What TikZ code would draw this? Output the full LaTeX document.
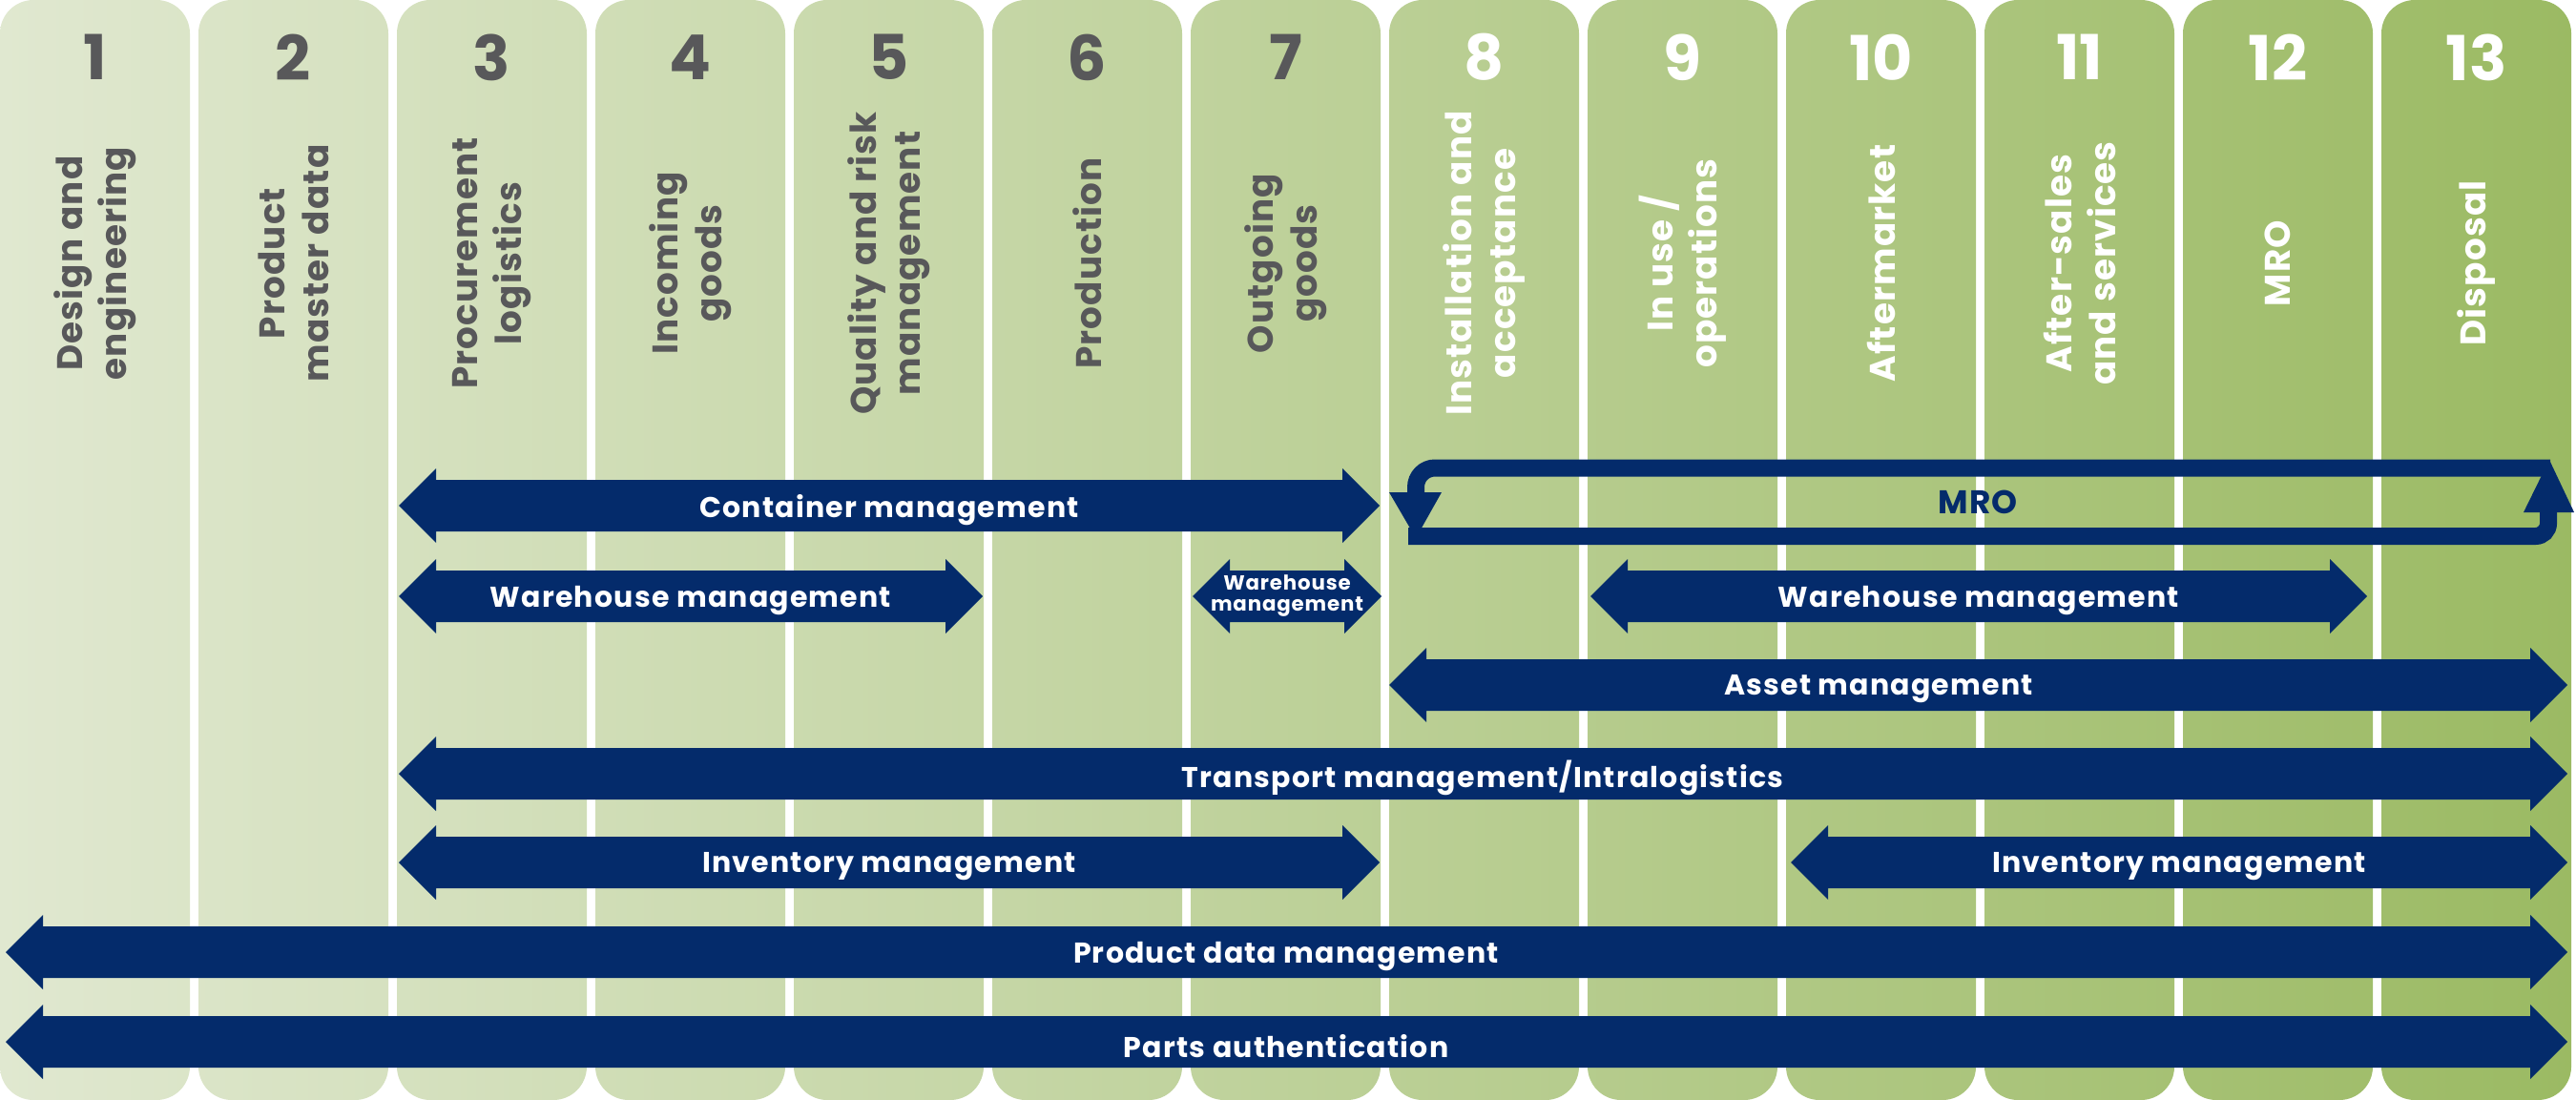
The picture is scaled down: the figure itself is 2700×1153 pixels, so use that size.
\documentclass[tikz,border=0pt]{standalone}
\usepackage{fontspec}
\setmainfont{Poppins}
\newfontfamily\lblfont{Poppins}[LetterSpace=3]
\newfontfamily\arrfont{Poppins}[LetterSpace=4]
\definecolor{navy}{RGB}{4,43,107}
\definecolor{txtgray}{RGB}{88,88,90}
\definecolor{gleft}{RGB}{224,232,208}
\definecolor{gright}{RGB}{155,186,99}
\newcommand{\dblarrow}[3]{%
  \fill[navy] (#1,#3) -- (#1+39,#3-39) -- (#1+39,#3-27) -- (#2-39,#3-27) -- (#2-39,#3-39) -- (#2,#3)
  -- (#2-39,#3+39) -- (#2-39,#3+27) -- (#1+39,#3+27) -- (#1+39,#3+39) -- cycle;}
\begin{document}
\begin{tikzpicture}[x=0.3pt,y=-0.3pt,
  numstyle/.style={font=\fontsize{19.5}{24}\selectfont\bfseries},
  lblstyle/.style={font=\lblfont\fontsize{11.2}{13.8}\selectfont\bfseries, rotate=90, align=center},
  gray text/.style={text=txtgray},
  white text/.style={text=white},
  arrlabel/.style={text=white, yshift=-1.3pt, font=\arrfont\fontsize{9}{10}\selectfont\bfseries},
  smalllabel/.style={text=white, font=\arrfont\fontsize{6.4}{6.6}\selectfont\bfseries, align=center},
  mrolabel/.style={text=navy, font=\arrfont\fontsize{10.3}{12}\selectfont\bfseries},
  band/.style={draw=navy, line width=5.4pt}]
\useasboundingbox (0,0) rectangle (2700,1153);
% columns
\begin{scope}
  \clip[rounded corners=10.5pt] \foreach \i in {0,...,12}{(208*\i,0) rectangle (208*\i+199,1153)};
  \shade[left color=gleft,right color=gright] (0,0) rectangle (2700,1153);
\end{scope}
% numbers
\foreach \i in {1,...,7}{\node[numstyle,gray text] (n\i) at (208*\i-208+99.5,60) {\i};}
\foreach \i in {8,...,13}{\node[numstyle,white text] (n\i) at (208*\i-208+99.5,60) {\i};}
% labels
\node[lblstyle,gray text] (l1) at (99.5,276) {Design and\\engineering};
\node[lblstyle,gray text] (l2) at (307.5,276) {Product\\master data};
\node[lblstyle,gray text] (l3) at (515.5,276) {Procurement\\logistics};
\node[lblstyle,gray text] (l4) at (723.5,276) {Incoming\\goods};
\node[lblstyle,gray text] (l5) at (931.5,276) {Quality and risk\\management};
\node[lblstyle,gray text] (l6) at (1139.5,276) {Production};
\node[lblstyle,gray text] (l7) at (1347.5,276) {Outgoing\\goods};
\node[lblstyle,white text] (l8) at (1555.5,276) {Installation and\\acceptance};
\node[lblstyle,white text] (l9) at (1763.5,276) {In use /\\operations};
\node[lblstyle,white text] (l10) at (1971.5,276) {Aftermarket};
\node[lblstyle,white text] (l11) at (2179.5,276) {After-sales\\and services};
\node[lblstyle,white text] (l12) at (2387.5,276) {MRO};
\node[lblstyle,white text] (l13) at (2595.5,276) {Disposal};
% MRO loop
\draw[band, rounded corners=6pt] (2673,490.5) -- (1484,490.5) -- (1484,518);
\fill[navy] (1456,516) -- (1511,516) -- (1484,564) -- cycle;
\draw[band, rounded corners=4pt] (1476,562) -- (2671,562) -- (2671,535);
\fill[navy] (2645,537) -- (2698,537) -- (2672,482) -- cycle;
\node[mrolabel] (mro) at (2073,526) {MRO};
% arrows
\dblarrow{418}{1446}{530}
\node[arrlabel] (a1) at (932,530) {Container management};
\dblarrow{418}{1030}{625}
\node[arrlabel] (a2) at (724,625) {Warehouse management};
\dblarrow{1250}{1448}{625}
\node[smalllabel] (a3) at (1349,625) {Warehouse\\management};
\dblarrow{1667}{2481}{625}
\node[arrlabel] (a4) at (2074,625) {Warehouse management};
\dblarrow{1456}{2691}{718}
\node[arrlabel] (a5) at (1969,718) {Asset management};
\dblarrow{418}{2691}{811}
\node[arrlabel] (a6) at (1554,811) {Transport management/Intralogistics};
\dblarrow{418}{1446}{904}
\node[arrlabel] (a7) at (932,904) {Inventory management};
\dblarrow{1877}{2691}{904}
\node[arrlabel] (a8) at (2284,904) {Inventory management};
\dblarrow{6}{2691}{998}
\node[arrlabel] (a9) at (1348,998) {Product data management};
\dblarrow{6}{2691}{1092}
\node[arrlabel] (a10) at (1348,1092) {Parts authentication};
\end{tikzpicture}
\end{document}
